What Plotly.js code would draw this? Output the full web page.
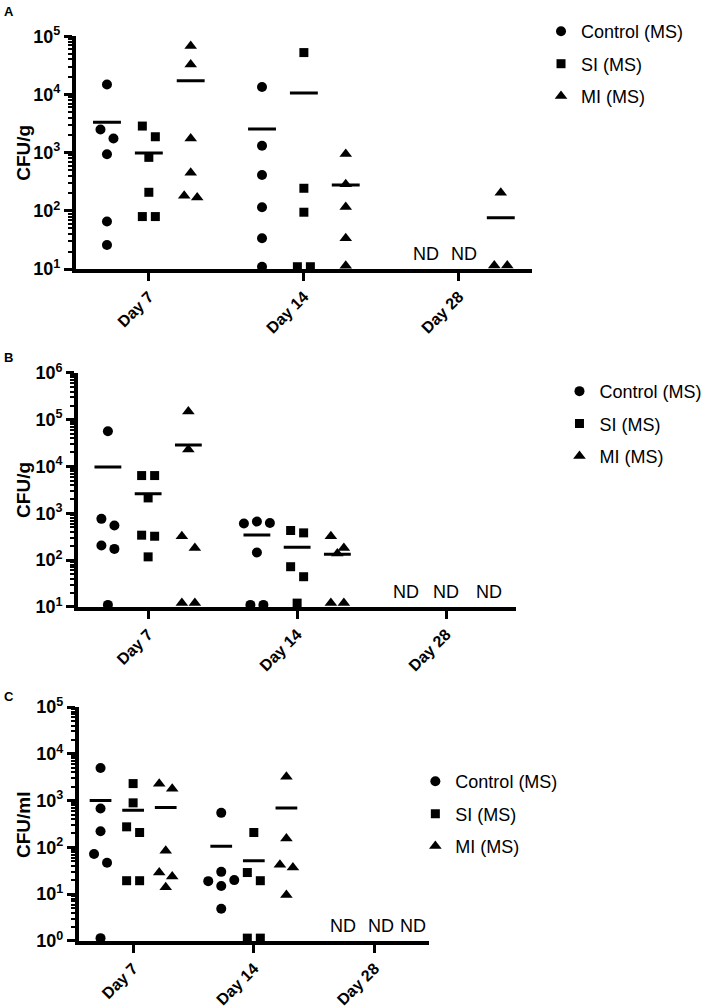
<!DOCTYPE html>
<html>
<head>
<meta charset="utf-8">
<script src="https://cdn.plot.ly/plotly-3.0.1.min.js"></script>
<style>html,body{margin:0;padding:0;background:#fff;}#chart{width:710px;height:1008px;}</style>
</head>
<body>
<div id="chart"></div>
<script>
// ---------------- DATA ----------------
const days = ['Day 7', 'Day 14', 'Day 28'];
const groups = ['Control (MS)', 'SI (MS)', 'MI (MS)'];

// Panel A (CFU/g) — empty array = not detected (ND)
const a_control_d7  = [14800, 2500, 1760, 940, 66, 26];
const a_control_d14 = [13500, 1320, 414, 116, 34, 11];
const a_control_d28 = [];
const a_si_d7  = [2870, 1880, 832, 209, 80, 80];
const a_si_d14 = [52500, 245, 95, 11, 11];
const a_si_d28 = [];
const a_mi_d7  = [68200, 32700, 1760, 454, 170, 183];
const a_mi_d14 = [950, 287, 117, 34, 11.4];
const a_mi_d28 = [206, 11.5, 11.5];

// Panel B (CFU/g)
const b_control_d7  = [56700, 759, 547, 205, 173, 11];
const b_control_d14 = [665, 620, 603, 145, 11, 11];
const b_control_d28 = [];
const b_si_d7  = [6400, 6400, 2130, 340, 323, 117];
const b_si_d14 = [428, 381, 72, 44, 12];
const b_si_d28 = [];
const b_mi_d7  = [150000, 23000, 323, 182, 12, 12];
const b_mi_d14 = [323, 182, 138, 12, 12];
const b_mi_d28 = [];

// Panel C (CFU/ml)
const c_control_d7  = [4990, 677, 222, 72, 47, 1.15];
const c_control_d14 = [547, 30, 20, 19, 15, 4.9];
const c_control_d28 = [];
const c_si_d7  = [2310, 895, 275, 208, 19.4, 19.4];
const c_si_d14 = [208, 29, 19.4, 1.15, 1.15];
const c_si_d28 = [];
const c_mi_d7  = [2300, 1800, 85, 29, 24, 14];
const c_mi_d14 = [3250, 155, 42.5, 37, 9.6];
const c_mi_d28 = [];

const yTitles = ['CFU/g', 'CFU/g', 'CFU/ml'];
const panelLetters = ['A', 'B', 'C'];

// ---------------- LAYOUT CONSTANTS ----------------
const W = 710, H = 1008;
const FONT = 'Liberation Sans, Arial, Helvetica, sans-serif';
const symbols = ['circle', 'square', 'triangle-up'];
const msizes = [10, 9, 11];
const groupOffset = [-0.27, 0, 0.27];
const meanHalf = 0.09;

const panels = [
  { data: [[a_control_d7, a_control_d14, a_control_d28], [a_si_d7, a_si_d14, a_si_d28], [a_mi_d7, a_mi_d14, a_mi_d28]],
    xdom: [0.107, 0.749], ydom: [0.733, 0.964], xr: [-0.47, 2.47], yr: [1, 5],
    legend: { x: 0.762, y: 0.987 }, ndShift: [0.06, 0.03, 0], titleX: 24 },
  { data: [[b_control_d7, b_control_d14, b_control_d28], [b_si_d7, b_si_d14, b_si_d28], [b_mi_d7, b_mi_d14, b_mi_d28]],
    xdom: [0.110, 0.727], ydom: [0.398, 0.630], xr: [-0.47, 2.47], yr: [1, 6],
    legend: { x: 0.788, y: 0.630 }, ndShift: [0, 0, 0.02], titleX: 24 },
  { data: [[c_control_d7, c_control_d14, c_control_d28], [c_si_d7, c_si_d14, c_si_d28], [c_mi_d7, c_mi_d14, c_mi_d28]],
    xdom: [0.111, 0.604], ydom: [0.0665, 0.2986], xr: [-0.45, 2.45], yr: [0, 5],
    legend: { x: 0.585, y: 0.243 }, ndShift: [0.01, 0.05, 0.05], titleX: 24 }
];

// simple beeswarm: returns horizontal offsets (in category units)
function swarm(vals, pxDec, pxCat) {
  const D = 12, S = 13;
  const n = vals.length;
  const ly = vals.map(v => Math.log10(v) * pxDec);
  const order = vals.map((_, i) => i).sort((a, b) => vals[b] - vals[a]);
  const off = new Array(n).fill(0);
  const parent = vals.map((_, i) => i);
  const find = i => (parent[i] === i ? i : (parent[i] = find(parent[i])));
  const placed = [];
  for (const i of order) {
    const cands = [0];
    for (let k = 1; k < 8; k++) cands.push(k * S, -k * S);
    for (const c of cands) {
      if (placed.every(j => Math.hypot(off[j] - c, ly[j] - ly[i]) >= D)) { off[i] = c; break; }
    }
    if (off[i] !== 0) {
      placed.forEach(j => { if (Math.hypot(off[j], ly[j] - ly[i]) < D) parent[find(i)] = find(j); });
    }
    placed.push(i);
  }
  const comps = {};
  for (let i = 0; i < n; i++) { const r = find(i); (comps[r] = comps[r] || []).push(i); }
  Object.values(comps).forEach(m => {
    if (m.length > 1) { const mean = m.reduce((s, i) => s + off[i], 0) / m.length; m.forEach(i => off[i] -= mean); }
  });
  return off.map(o => o / pxCat);
}

const traces = [];
const layout = {
  width: W, height: H, margin: { l: 0, r: 0, t: 0, b: 0 },
  paper_bgcolor: '#fff', plot_bgcolor: '#fff',
  font: { family: FONT, color: '#000' },
  showlegend: true, annotations: []
};

panels.forEach((p, pi) => {
  const sfx = pi === 0 ? '' : String(pi + 1);
  const xa = 'x' + sfx, ya = 'y' + sfx;
  const legName = 'legend' + sfx;
  const pxCat = (p.xdom[1] - p.xdom[0]) * W / (p.xr[1] - p.xr[0]);
  const pxDec = (p.ydom[1] - p.ydom[0]) * H / (p.yr[1] - p.yr[0]);

  groups.forEach((g, gi) => {
    const xs = [], ys = [];
    p.data[gi].forEach((vals, di) => {
      if (vals.length === 0) {
        layout.annotations.push({
          xref: xa, yref: ya, x: di + groupOffset[gi] + p.ndShift[gi], y: p.yr[0],
          text: 'ND', showarrow: false, xanchor: 'center', yanchor: 'bottom', yshift: 3,
          font: { family: FONT, size: 18, color: '#000' }
        });
        return;
      }
      const offs = swarm(vals, pxDec, pxCat);
      vals.forEach((v, k) => { xs.push(di + groupOffset[gi] + offs[k]); ys.push(v); });
      const mean = vals.reduce((s, v) => s + v, 0) / vals.length;
      const cx = di + groupOffset[gi];
      traces.push({
        type: 'scatter', mode: 'lines', xaxis: xa, yaxis: ya,
        x: [cx - meanHalf, cx + meanHalf], y: [mean, mean],
        line: { color: '#000', width: 3 }, showlegend: false, hoverinfo: 'skip', cliponaxis: false
      });
    });
    traces.push({
      type: 'scatter', mode: 'markers', name: g, xaxis: xa, yaxis: ya,
      x: xs, y: ys, legend: legName, legendgroup: 'p' + pi + 'g' + gi,
      marker: { symbol: symbols[gi], size: msizes[gi], color: '#000' },
      cliponaxis: false
    });
  });

  const majors = [], majorText = [], minors = [];
  for (let e = p.yr[0]; e <= p.yr[1]; e++) {
    majors.push(Math.pow(10, e)); majorText.push('10<sup>' + e + '</sup>');
    if (e < p.yr[1]) for (let m = 2; m <= 9; m++) minors.push(m * Math.pow(10, e));
  }

  layout['xaxis' + sfx] = {
    domain: p.xdom, anchor: ya, range: p.xr, type: 'linear',
    tickmode: 'array', tickvals: [0, 1, 2], ticktext: days, tickangle: -45,
    ticks: 'outside', ticklen: 8, tickwidth: 3, tickcolor: '#000',
    showline: true, linewidth: 4, linecolor: '#000',
    showgrid: false, zeroline: false, fixedrange: true,
    tickfont: { family: FONT, size: 16, weight: 'bold', color: '#000' }
  };
  layout['yaxis' + sfx] = {
    domain: p.ydom, anchor: xa, type: 'log', range: p.yr,
    tickmode: 'array', tickvals: majors, ticktext: majorText,
    ticks: 'outside', ticklen: 8, tickwidth: 3, tickcolor: '#000',
    showline: true, linewidth: 4, linecolor: '#000',
    showgrid: false, zeroline: false, fixedrange: true,
    minor: { tickmode: 'array', tickvals: minors, ticks: 'outside', ticklen: 4, tickwidth: 2, tickcolor: '#000', showgrid: false },
    tickfont: { family: FONT, size: 18, weight: 'bold', color: '#000' }
  };
  layout[legName] = {
    x: p.legend.x, y: p.legend.y, xanchor: 'left', yanchor: 'top',
    xref: 'paper', yref: 'paper', bgcolor: 'rgba(0,0,0,0)',
    font: { family: FONT, size: 18, color: '#000' }, tracegroupgap: 6,
    itemclick: false, itemdoubleclick: false
  };
  // y-axis title
  layout.annotations.push({
    xref: 'paper', yref: 'paper', x: p.titleX / W, y: (p.ydom[0] + p.ydom[1]) / 2,
    text: yTitles[pi], textangle: -90, showarrow: false, xanchor: 'center', yanchor: 'middle',
    font: { family: FONT, size: 19, weight: 'bold', color: '#000' }
  });
  // panel letter
  const letterY = [12, 357, 696][pi];
  layout.annotations.push({
    xref: 'paper', yref: 'paper', x: 2 / W, y: 1 - letterY / H,
    text: panelLetters[pi], showarrow: false, xanchor: 'left', yanchor: 'middle',
    font: { family: FONT, size: 13, weight: 'bold', color: '#000' }
  });
});

Plotly.newPlot('chart', traces, layout, { staticPlot: true, displayModeBar: false });
</script>
</body>
</html>
